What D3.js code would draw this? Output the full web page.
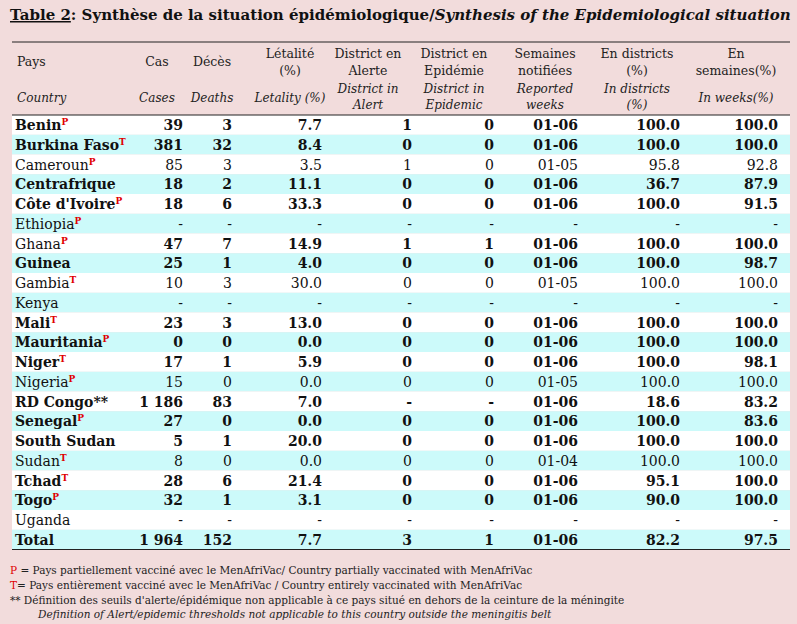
<!DOCTYPE html>
<html><head><meta charset="utf-8">
<script src="https://cdn.jsdelivr.net/npm/d3@7"></script>
<style>body{margin:0;background:#f2dcdc}</style>
</head><body>
<script>
const countries = ["Benin","Burkina Faso","Cameroun","Centrafrique","Côte d'Ivoire","Ethiopia","Ghana","Guinea","Gambia","Kenya","Mali","Mauritania","Niger","Nigeria","RD Congo**","Senegal","South Sudan","Sudan","Tchad","Togo","Uganda","Total"];
const marks = ["P","T","P","","P","P","P","","T","","T","P","T","P","","P","","T","T","P","",""];
const bold = [1,1,0,1,1,0,1,1,0,0,1,1,1,0,1,1,1,0,1,1,0,1];
const cases = ["39","381","85","18","18","-","47","25","10","-","23","0","17","15","1 186","27","5","8","28","32","-","1 964"];
const deaths = ["3","32","3","2","6","-","7","1","3","-","3","0","1","0","83","0","1","0","6","1","-","152"];
const letality = ["7.7","8.4","3.5","11.1","33.3","-","14.9","4.0","30.0","-","13.0","0.0","5.9","0.0","7.0","0.0","20.0","0.0","21.4","3.1","-","7.7"];
const alert = ["1","0","1","0","0","-","1","0","0","-","0","0","0","0","-","0","0","0","0","0","-","3"];
const epidemic = ["0","0","0","0","0","-","1","0","0","-","0","0","0","0","-","0","0","0","0","0","-","1"];
const weeks = ["01-06","01-06","01-05","01-06","01-06","-","01-06","01-06","01-05","-","01-06","01-06","01-06","01-05","01-06","01-06","01-06","01-04","01-06","01-06","-","01-06"];
const inDistricts = ["100.0","100.0","95.8","36.7","100.0","-","100.0","100.0","100.0","-","100.0","100.0","100.0","100.0","18.6","100.0","100.0","100.0","95.1","90.0","-","82.2"];
const inWeeks = ["100.0","100.0","92.8","87.9","91.5","-","100.0","98.7","100.0","-","100.0","100.0","98.1","100.0","83.2","83.6","100.0","100.0","100.0","100.0","-","97.5"];
const headFr = [["Pays"],["Cas"],["Décès"],["Létalité","(%)"],["District en","Alerte"],["District en","Epidémie"],["Semaines","notifiées"],["En districts","(%)"],["En","semaines(%)"]];
const headEn = [["Country"],["Cases"],["Deaths"],["Letality (%)"],["District in","Alert"],["District in","Epidemic"],["Reported","weeks"],["In districts","(%)"],["In weeks(%)"]];

const W = 797, H = 624;
const svg = d3.select("body").append("svg").attr("width", W).attr("height", H)
  .style("font-family", "'DejaVu Serif', serif");
svg.append("rect").attr("width", W).attr("height", H).attr("fill", "#f2dcdc");

const t = svg.append("text").attr("x", 10).attr("y", 20).attr("font-size", 15).attr("font-weight", "bold").attr("fill", "#111");
t.append("tspan").attr("text-decoration", "underline").text("Table 2");
t.append("tspan").text(": Synthèse de la situation épidémiologique/");
t.append("tspan").attr("font-style", "italic").text("Synthesis of the Epidemiological situation");

const tableTop = 115;
const y = d3.scaleBand().domain(d3.range(countries.length)).range([tableTop, tableTop + 22 * 19.75]);
const colRight = [0, 183, 232, 322, 412, 494, 578, 680, 778];
const colCenter = [0, 157, 212, 290, 368, 454, 545, 637, 736];

svg.append("line").attr("x1", 12).attr("x2", 790).attr("y1", 42).attr("y2", 42).attr("stroke", "#222").attr("stroke-width", 1.2);

headFr.forEach((lines, i) => {
  const base = lines.length === 1 ? 66 : 58;
  lines.forEach((s, k) => svg.append("text")
    .attr("x", i ? colCenter[i] : 17).attr("y", base + k * 17)
    .attr("text-anchor", i ? "middle" : "start").attr("font-size", 12.5).attr("fill", "#222").text(s));
});
headEn.forEach((lines, i) => {
  const base = lines.length === 1 ? 102 : 93;
  lines.forEach((s, k) => svg.append("text")
    .attr("x", i ? colCenter[i] : 17).attr("y", base + k * 16)
    .attr("text-anchor", i ? "middle" : "start").attr("font-size", 12).attr("font-style", "italic").attr("fill", "#222").text(s));
});

const rows = svg.selectAll("g.row").data(countries).join("g").attr("class", "row")
  .attr("transform", (d, i) => `translate(0,${y(i)})`);
rows.append("rect").attr("x", 12).attr("width", 778).attr("height", y.bandwidth())
  .attr("fill", (d, i) => i % 2 ? "#ccfafa" : "#ffffff");
const nm = rows.append("text").attr("x", 15).attr("y", 15).attr("font-size", 14)
  .attr("font-weight", (d, i) => bold[i] && i !== 6 ? "bold" : "normal").attr("fill", "#111");
nm.append("tspan").text(d => d);
nm.append("tspan").attr("fill", "#e00000").attr("font-size", 9).attr("font-weight", "bold").attr("dy", -5).text((d, i) => marks[i]);

const cols = [cases, deaths, letality, alert, epidemic, weeks, inDistricts, inWeeks];
cols.forEach((col, c) => {
  rows.append("text").attr("x", colRight[c + 1]).attr("y", 15).attr("text-anchor", "end")
    .attr("font-size", 14).attr("font-weight", (d, i) => bold[i] ? "bold" : "normal").attr("fill", "#111")
    .text((d, i) => col[i]);
});

svg.append("line").attr("x1", 12).attr("x2", 790).attr("y1", tableTop).attr("y2", tableTop).attr("stroke", "#222").attr("stroke-width", 1.2);
const bottom = tableTop + 22 * 19.75;
svg.append("line").attr("x1", 12).attr("x2", 790).attr("y1", bottom).attr("y2", bottom).attr("stroke", "#222").attr("stroke-width", 1.2);

const notes = [
  [["P", "#e00000"], [" = Pays partiellement vacciné avec le MenAfriVac/ Country partially  vaccinated with MenAfriVac", "#222"]],
  [["T", "#e00000"], ["= Pays entièrement vacciné avec le MenAfriVac / Country entirely  vaccinated with MenAfriVac", "#222"]],
  [["** Définition des seuils d'alerte/épidémique non applicable à ce pays situé en dehors de la ceinture de la méningite", "#222"]]
];
notes.forEach((parts, k) => {
  const tx = svg.append("text").attr("x", 10).attr("y", 574 + k * 15).attr("font-size", 10.5);
  parts.forEach(p => tx.append("tspan").attr("fill", p[1]).text(p[0]));
});
svg.append("text").attr("x", 38).attr("y", 618).attr("font-size", 10.5).attr("font-style", "italic").attr("fill", "#222")
  .text("Definition of Alert/epidemic thresholds not applicable to this country outside the meningitis belt");
</script>
</body></html>
